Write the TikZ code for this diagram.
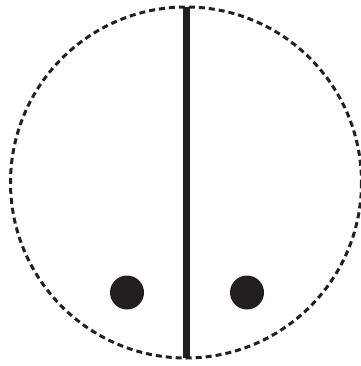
\documentclass[tikz,border=0pt]{standalone}
\definecolor{ink}{HTML}{231F20}
\begin{document}
\begin{tikzpicture}[x=1pt,y=-1pt,
  rim/.style={draw=ink,line width=3pt,dash pattern=on 6pt off 4pt},
  divider/.style={draw=ink,line width=6.5pt},
  spot/.style={circle,fill=ink,minimum size=34pt,inner sep=0pt}]
\useasboundingbox (0,0) rectangle (360,366);
\coordinate (c) at (186,182.5);
\draw[rim] (c) circle[radius=175.5];
\coordinate (top) at (186.5,7);
\coordinate (bot) at (186.5,358);
\draw[divider] (top) -- (bot);
\node[spot] (l) at (127,292.5) {};
\node[spot] (r) at (247,292.5) {};
\end{tikzpicture}
\end{document}
